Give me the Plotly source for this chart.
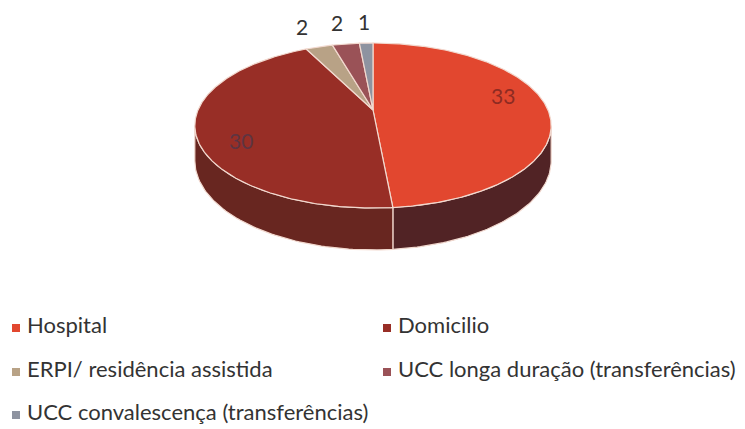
import numpy as np
import plotly.graph_objects as go

# ---------------- data ----------------
categories = [
    "Hospital",
    "Domicilio",
    "ERPI/ residência assistida",
    "UCC longa duração (transferências)",
    "UCC convalescença (transferências)",
]
values = [33, 30, 2, 2, 1]

# ---------------- styles ----------------
top_colors = ["#E2472F", "#982E26", "#B8A286", "#9A5257", "#8E93A0"]
side_colors = ["#512325", "#682620", "#7A6A58", "#6A3A3E", "#5E6270"]
label_colors = ["#8E2B22", "#5E3441", "#333333", "#333333", "#333333"]
edge_color = "#F2D9CF"
FONT = "Lato"
OFF = 8  # page body margin compensation

# projection of a tilted 3-D pie (pixel space)
CX, CY = 373, 110
A, B, P, DEPTH = 175, 79.6, 0.188, 34


def proj(theta_deg, r=1.0, h=0.0):
    t = np.radians(theta_deg)
    u = r * np.sin(t)
    v = -r * np.cos(t)
    w = 1 - P * v
    return CX + A * u / w, CY + (B * v + DEPTH * h) / w


total = sum(values)
angles = np.cumsum([0] + [v / total * 360 for v in values])
vis_lo = np.degrees(np.arccos(-P))          # silhouette angles
vis_hi = 360 - vis_lo

fig = go.Figure()

# sides (front only)
for i, (s, e) in enumerate(zip(angles[:-1], angles[1:])):
    a0, a1 = max(s, vis_lo), min(e, vis_hi)
    if a1 <= a0:
        continue
    th = np.linspace(a0, a1, 80)
    xt, yt = proj(th)
    xb, yb = proj(th[::-1], h=1.0)
    xs = np.concatenate([xt, xb, xt[:1]])
    ys = np.concatenate([yt, yb, yt[:1]])
    fig.add_trace(go.Scatter(
        x=xs, y=ys, mode="lines", fill="toself",
        fillcolor=side_colors[i], line=dict(color=edge_color, width=1.2),
        hoverinfo="skip", showlegend=False))

# top faces
for i, (s, e) in enumerate(zip(angles[:-1], angles[1:])):
    th = np.linspace(s, e, max(4, int((e - s) * 2)))
    xa, ya = proj(th)
    xs = np.concatenate([[CX], xa, [CX]])
    ys = np.concatenate([[CY], ya, [CY]])
    fig.add_trace(go.Scatter(
        x=xs, y=ys, mode="lines", fill="toself",
        fillcolor=top_colors[i], line=dict(color=edge_color, width=1.2),
        hoverinfo="skip", showlegend=False))

# data labels
mids = (angles[:-1] + angles[1:]) / 2
for i, (m, val) in enumerate(zip(mids, values)):
    big = val / total > 0.1
    if big:
        lx, ly = proj(m - 11, r=0.79)
    else:
        lx, ly = proj(m, r=1.40)
    fig.add_annotation(x=lx, y=ly, text=str(val), showarrow=False,
                       font=dict(family=FONT, size=21, color=label_colors[i]))

# legend (two columns)
leg_x = [16, 387, 16, 387, 16]
leg_y = [328, 328, 372, 372, 415]
fig.add_trace(go.Scatter(
    x=leg_x, y=leg_y, mode="markers",
    marker=dict(symbol="square", size=8, color=top_colors),
    hoverinfo="skip", showlegend=False, cliponaxis=False))
fig.add_trace(go.Scatter(
    x=[x + 11 for x in leg_x], y=[y - 1 for y in leg_y], mode="text", text=categories,
    textposition="middle right",
    textfont=dict(family=FONT, size=22, color="#333333"),
    hoverinfo="skip", showlegend=False, cliponaxis=False))

fig.update_layout(
    width=745, height=429,
    margin=dict(l=0, r=0, t=0, b=0),
    paper_bgcolor="white", plot_bgcolor="white",
    xaxis=dict(range=[OFF, 745 + OFF], visible=False, fixedrange=True),
    yaxis=dict(range=[429 + OFF, OFF], visible=False, fixedrange=True),
    font=dict(family=FONT),
)

fig.write_html("out.html")
